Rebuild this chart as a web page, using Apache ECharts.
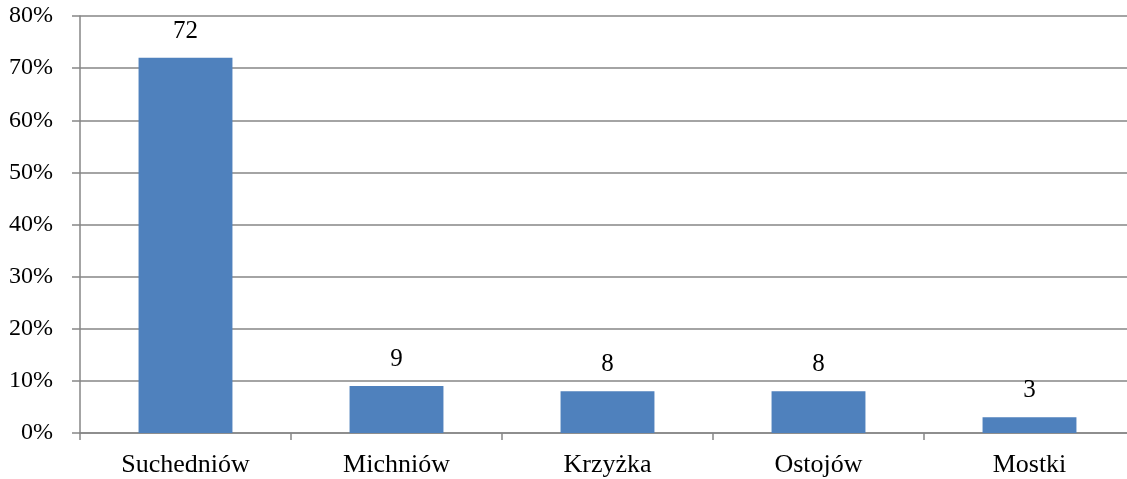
<!DOCTYPE html>
<html><head><meta charset="utf-8">
<script src="https://cdn.jsdelivr.net/npm/echarts@6/dist/echarts.min.js"></script>
<style>html,body{margin:0;padding:0;background:#fff}#c{width:1127px;height:479px}</style>
</head><body><div id="c"></div>
<script>
const categories = ['Suchedniów', 'Michniów', 'Krzyżka', 'Ostojów', 'Mostki'];
const values = [72, 9, 8, 8, 3];
const yTicks = { min: 0, max: 80, interval: 10 };
const font = '"Liberation Serif","Times New Roman",serif';
const chart = echarts.init(document.getElementById('c'), null, { renderer: 'canvas' });
chart.setOption({
  animation: false,
  grid: { left: 80, width: 1055, top: 16, bottom: 46, containLabel: false, outerBoundsMode: 'none' },
  xAxis: {
    type: 'category', data: categories,
    axisLine: { lineStyle: { color: '#868686', width: 1.5 } },
    axisTick: { show: true, length: 7, lineStyle: { color: '#868686', width: 1.5 } },
    axisLabel: { color: '#000', fontFamily: font, fontSize: 26, margin: 19 }
  },
  yAxis: {
    type: 'value', min: yTicks.min, max: yTicks.max, interval: yTicks.interval,
    axisLine: { show: true, lineStyle: { color: '#868686', width: 1.5 } },
    axisTick: { show: true, length: 8, lineStyle: { color: '#868686', width: 1.5 } },
    splitLine: { lineStyle: { color: '#868686', width: 1.5 } },
    axisLabel: { color: '#000', fontFamily: font, fontSize: 24, margin: 27, formatter: v => v + '%' }
  },
  series: [{
    type: 'bar', data: values, barWidth: '44.5%',
    itemStyle: { color: '#4F81BD' },
    label: { show: true, position: 'top', distance: 14, color: '#000', fontFamily: font, fontSize: 25 }
  }]
});
</script></body></html>
